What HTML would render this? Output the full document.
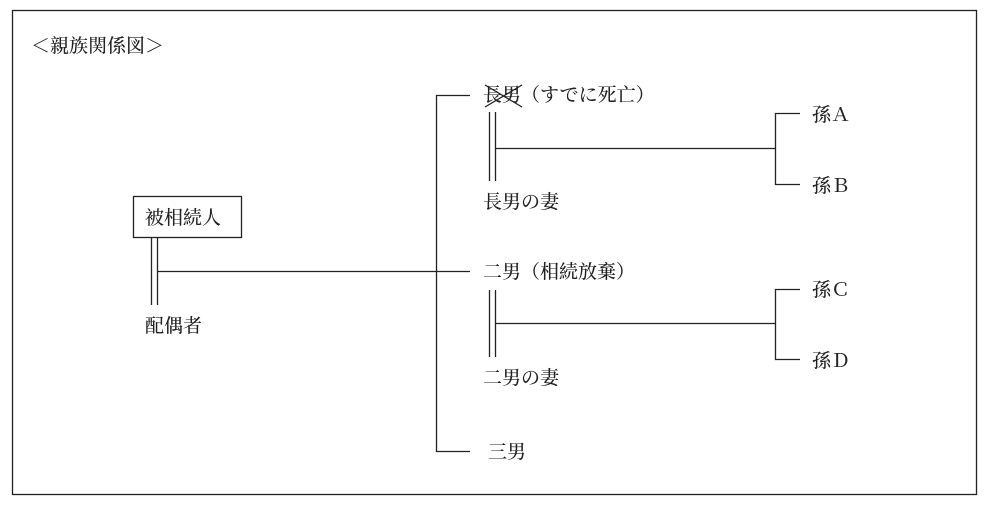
<!DOCTYPE html>
<html><head><meta charset="utf-8"><style>
html,body{margin:0;padding:0;background:#fff;}
svg text{font-family:"Liberation Serif","Noto Serif CJK SC","Noto Sans CJK JP",serif;font-size:19px;fill:#222;font-weight:500;}
</style></head><body>
<svg width="988" height="507" xmlns="http://www.w3.org/2000/svg">
<rect x="12.5" y="10.5" width="964" height="484" fill="none" stroke="#222" stroke-width="1.3"/>
<text x="31" y="52">＜親族関係図＞</text>
<rect x="133.5" y="196.5" width="108" height="41" fill="none" stroke="#222" stroke-width="1.3"/>
<text x="145" y="224">被相続人</text>
<g stroke="#222" stroke-width="1.3" fill="none">
<line x1="151.5" y1="237" x2="151.5" y2="305"/>
<line x1="157.5" y1="237" x2="157.5" y2="305"/>
<line x1="157" y1="271.5" x2="470" y2="271.5"/>
<polyline points="470,95.5 436.5,95.5 436.5,451.5 470,451.5"/>
<line x1="485" y1="85" x2="522" y2="107"/>
<line x1="485" y1="107" x2="522" y2="85"/>
<line x1="489.5" y1="112" x2="489.5" y2="181"/>
<line x1="495.5" y1="112" x2="495.5" y2="181"/>
<line x1="495" y1="148.5" x2="775" y2="148.5"/>
<polyline points="800,113.5 775.5,113.5 775.5,184.5 800,184.5"/>
<line x1="489.5" y1="290" x2="489.5" y2="357"/>
<line x1="495.5" y1="290" x2="495.5" y2="357"/>
<line x1="495" y1="323.5" x2="775" y2="323.5"/>
<polyline points="800,289.5 775.5,289.5 775.5,359.5 800,359.5"/>
</g>
<text x="145" y="332">配偶者</text>
<text x="483" y="101">長男（すでに死亡）</text>
<text x="483" y="208">長男の妻</text>
<text x="483" y="278">二男（相続放棄）</text>
<text x="483" y="384">二男の妻</text>
<text x="488" y="458">三男</text>
<text x="812" y="121">孫Ａ</text>
<text x="812" y="192">孫Ｂ</text>
<text x="812" y="296">孫Ｃ</text>
<text x="812" y="367">孫Ｄ</text>
</svg>
</body></html>
